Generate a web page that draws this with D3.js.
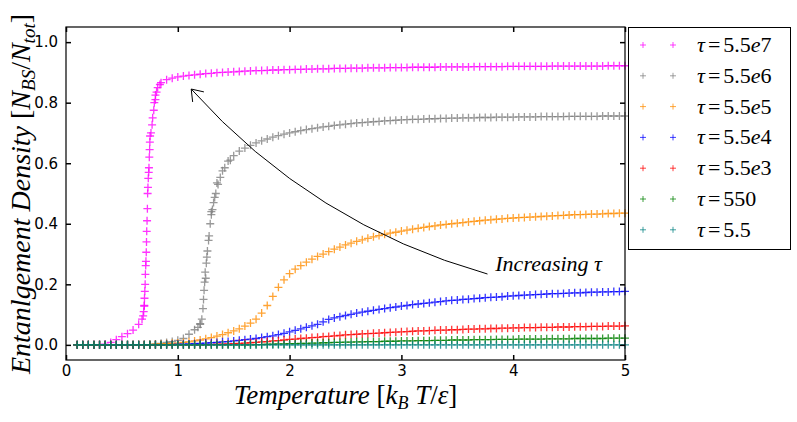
<!DOCTYPE html>
<html>
<head>
<meta charset="utf-8">
<script src="https://cdn.jsdelivr.net/npm/d3@7"></script>
<style>
  body { margin: 0; background: #fff; }
  svg  { display: block; }
</style>
</head>
<body>
<svg id="chart" width="797" height="422"></svg>
<script>
/* ── Entanglement density vs temperature ───────────────────────── */

// shared temperature grid (k_B T / eps)
const tempGrid = [
  0.10,0.15,0.20,0.25,0.30,0.35,0.40,0.45,0.50,0.55,
  0.60,0.65,0.70,0.75,0.80,0.85,0.90,0.95,1.00,1.05,
  1.10,1.15,1.20,1.25,1.30,1.35,1.40,1.45,1.50,1.55,
  1.60,1.65,1.70,1.75,1.80,1.85,1.90,1.95,2.00,2.05,
  2.10,2.15,2.20,2.25,2.30,2.35,2.40,2.45,2.50,2.55,
  2.60,2.65,2.70,2.75,2.80,2.85,2.90,2.95,3.00,3.05,
  3.10,3.15,3.20,3.25,3.30,3.35,3.40,3.45,3.50,3.55,
  3.60,3.65,3.70,3.75,3.80,3.85,3.90,3.95,4.00,4.05,
  4.10,4.15,4.20,4.25,4.30,4.35,4.40,4.45,4.50,4.55,
  4.60,4.65,4.70,4.75,4.80,4.85,4.90,4.95,5.00
];

const tau55e7 = [
  0,0,0,0,0,0.002,0.008,0.017,0.027,0.037,
  0.049,0.068,0.13,0.67,0.825,0.866,0.876,0.881,0.885,0.888,
  0.890,0.892,0.894,0.896,0.897,0.899,0.900,0.901,0.902,0.903,
  0.904,0.905,0.906,0.906,0.907,0.908,0.908,0.909,0.909,0.910,
  0.910,0.911,0.911,0.912,0.912,0.912,0.913,0.913,0.913,0.914,
  0.914,0.914,0.915,0.915,0.915,0.915,0.916,0.916,0.916,0.916,
  0.917,0.917,0.917,0.917,0.917,0.918,0.918,0.918,0.918,0.918,
  0.918,0.919,0.919,0.919,0.919,0.919,0.919,0.920,0.920,0.920,
  0.920,0.920,0.920,0.920,0.920,0.921,0.921,0.921,0.921,0.921,
  0.921,0.921,0.921,0.921,0.921,0.922,0.922,0.922,0.922
];
// extra readings on the steep rise of tau = 5.5e7
const steep55e7T = [0.68,0.69,0.695,0.70,0.702,0.705,0.708,0.71,0.713,0.715,0.718,0.72,0.722,0.725,0.728,0.73,
                    0.733,0.736,0.74,0.742,0.745,0.748,0.752,0.76,0.77,0.775,0.785,0.79,0.80,0.81,0.82,0.84];
const steep55e7V = [0.085,0.096,0.11,0.128,0.154,0.177,0.20,0.233,0.262,0.276,0.306,0.34,0.375,0.41,0.45,0.50,
                    0.52,0.55,0.57,0.585,0.62,0.645,0.69,0.70,0.727,0.75,0.775,0.80,0.81,0.835,0.85,0.86];

const tau55e6 = [
  0,0,0,0,0,0,0,0,0,0,
  0,0,0,0.001,0.003,0.005,0.008,0.011,0.015,0.021,
  0.035,0.05,0.07,0.22,0.44,0.535,0.575,0.607,0.625,0.64,
  0.65,0.659,0.667,0.674,0.68,0.686,0.691,0.696,0.70,0.704,
  0.708,0.711,0.714,0.717,0.72,0.722,0.725,0.727,0.729,0.731,
  0.733,0.734,0.736,0.737,0.738,0.74,0.741,0.742,0.743,0.744,
  0.745,0.745,0.746,0.747,0.747,0.748,0.748,0.749,0.749,0.750,
  0.750,0.750,0.751,0.751,0.751,0.752,0.752,0.752,0.752,0.753,
  0.753,0.753,0.753,0.754,0.754,0.754,0.754,0.754,0.755,0.755,
  0.755,0.755,0.755,0.755,0.756,0.756,0.756,0.756,0.756
];
const steep55e6T = [1.18,1.20,1.215,1.225,1.23,1.235,1.24,1.245,1.255,1.26,1.265,1.275,1.28,1.29,1.30,1.31,
                    1.32,1.33,1.34,1.36,1.38,1.42,1.47];
const steep55e6V = [0.058,0.068,0.085,0.12,0.15,0.18,0.207,0.24,0.27,0.29,0.31,0.345,0.36,0.40,0.43,0.447,
                    0.47,0.487,0.50,0.53,0.553,0.585,0.61];

const tau55e5 = [
  0,0,0,0,0,0,0,0,0,0,
  0,0,0,0.001,0.002,0.003,0.004,0.005,0.006,0.008,
  0.010,0.013,0.016,0.020,0.024,0.029,0.034,0.040,0.046,0.053,
  0.062,0.072,0.085,0.105,0.13,0.16,0.19,0.215,0.235,0.25,
  0.262,0.273,0.283,0.292,0.30,0.308,0.316,0.323,0.33,0.336,
  0.342,0.347,0.352,0.357,0.361,0.365,0.369,0.372,0.376,0.379,
  0.382,0.385,0.388,0.391,0.393,0.396,0.398,0.40,0.402,0.404,
  0.406,0.408,0.41,0.412,0.413,0.415,0.416,0.418,0.419,0.42,
  0.421,0.422,0.423,0.424,0.425,0.426,0.427,0.428,0.429,0.43,
  0.43,0.431,0.432,0.432,0.433,0.434,0.434,0.435,0.435
];

const tau55e4 = [
  0,0,0,0,0,0,0,0,0,0,
  0,0,0,0,0,0,0.001,0.001,0.002,0.002,
  0.003,0.004,0.005,0.006,0.007,0.008,0.01,0.011,0.013,0.015,
  0.017,0.019,0.021,0.024,0.027,0.03,0.034,0.038,0.043,0.048,
  0.053,0.058,0.063,0.068,0.076,0.084,0.089,0.093,0.097,0.101,
  0.105,0.108,0.111,0.114,0.117,0.12,0.123,0.125,0.128,0.13,
  0.133,0.135,0.137,0.139,0.141,0.143,0.145,0.147,0.148,0.15,
  0.151,0.153,0.154,0.156,0.157,0.158,0.159,0.161,0.162,0.163,
  0.164,0.165,0.166,0.167,0.168,0.169,0.169,0.17,0.171,0.172,
  0.172,0.173,0.174,0.174,0.175,0.175,0.176,0.176,0.177
];

const tau55e3 = [
  0,0,0,0,0,0,0,0,0,0,
  0,0,0,0,0,0,0,0,0,0,
  0,0,0,0.001,0.001,0.002,0.002,0.003,0.004,0.005,
  0.006,0.007,0.008,0.01,0.011,0.013,0.014,0.016,0.018,0.019,
  0.021,0.022,0.024,0.025,0.027,0.028,0.03,0.031,0.033,0.034,
  0.035,0.036,0.037,0.038,0.039,0.04,0.041,0.042,0.043,0.044,
  0.045,0.046,0.046,0.047,0.048,0.049,0.049,0.05,0.05,0.051,
  0.052,0.052,0.053,0.053,0.054,0.054,0.055,0.055,0.056,0.056,
  0.057,0.057,0.057,0.058,0.058,0.058,0.059,0.059,0.059,0.06,
  0.06,0.06,0.061,0.061,0.061,0.062,0.062,0.062,0.063
];

const tau550 = [
  0,0,0,0,0,0,0,0,0,0,
  0,0,0,0,0,0,0,0,0,0,
  0,0,0,0,0,0,0,0,0,0,
  0,0,0.001,0.001,0.002,0.002,0.003,0.003,0.004,0.004,
  0.005,0.005,0.006,0.006,0.007,0.007,0.008,0.008,0.009,0.009,
  0.01,0.01,0.011,0.011,0.011,0.012,0.012,0.012,0.013,0.013,
  0.013,0.014,0.014,0.014,0.015,0.015,0.015,0.016,0.016,0.016,
  0.016,0.017,0.017,0.017,0.017,0.018,0.018,0.018,0.018,0.019,
  0.019,0.019,0.019,0.019,0.02,0.02,0.02,0.02,0.02,0.021,
  0.021,0.021,0.021,0.021,0.021,0.022,0.022,0.022,0.022
];

const tau5p5 = [
  0,0,0,0,0,0,0,0,0,0,
  0,0,0,0,0,0,0,0,0,0,
  0,0,0,0,0,0,0,0,0,0,
  0,0,0,0,0,0,0,0,0,0,
  0,0,0,0,0,0,0,0,0,0,
  0,0,0,0,0,0,0,0,0,0,
  0,0,0,0,0,0,0,0,0,0,
  0,0,0,0,0,0,0,0,0,0,
  0,0,0,0,0,0,0,0,0,0,
  0,0,0,0,0,0,0,0,0
];

const tauLabels    = ["5.5e7", "5.5e6", "5.5e5", "5.5e4", "5.5e3", "550", "5.5"];
const seriesColors = ["#ff00ff", "#808080", "#ff8c00", "#0000ff", "#ff0000", "#008000", "#008080"];
const xTicks = [0, 1, 2, 3, 4, 5];
const yTicks = [0.0, 0.2, 0.4, 0.6, 0.8, 1.0];

// annotation, in data coordinates
const arrowTip  = [1.12, 0.845];
const arrowTail = [3.77, 0.234];
const noteAt    = [3.84, 0.243];

const series = [
  { tau: tauLabels[0], color: seriesColors[0], v: tau55e7, xt: steep55e7T, xv: steep55e7V },
  { tau: tauLabels[1], color: seriesColors[1], v: tau55e6, xt: steep55e6T, xv: steep55e6V },
  { tau: tauLabels[2], color: seriesColors[2], v: tau55e5 },
  { tau: tauLabels[3], color: seriesColors[3], v: tau55e4 },
  { tau: tauLabels[4], color: seriesColors[4], v: tau55e3 },
  { tau: tauLabels[5], color: seriesColors[5], v: tau550 },
  { tau: tauLabels[6], color: seriesColors[6], v: tau5p5 },
];

// ── Layout ────────────────────────────────────────────────────────
const M = { left: 66, right: 625, top: 27, bottom: 360 };
const SERIF = "'Liberation Serif', 'Times New Roman', serif";
const SANS  = "'DejaVu Sans', sans-serif";
const PLUS  = "M-4,0H4M0,-4V4";

const svg = d3.select("#chart");

const x = d3.scaleLinear().domain([0, 5]).range([M.left, M.right]);
const y = d3.scaleLinear().domain([-0.05, 1.05]).range([M.bottom, M.top]);

// ── Data markers ──────────────────────────────────────────────────
const plot = svg.append("g");
series.forEach(s => {
  const pts = tempGrid.map((t, i) => [t, s.v[i]]).filter(p => p[1] != null);
  if (s.xt) s.xt.forEach((t, i) => pts.push([t, s.xv[i]]));
  plot.append("g")
    .selectAll("path")
    .data(pts)
    .join("path")
      .attr("d", PLUS)
      .attr("transform", d => `translate(${x(d[0])},${y(d[1])})`)
      .attr("stroke", s.color)
      .attr("stroke-opacity", .8)
      .attr("stroke-width", 1.3)
      .attr("fill", "none");
});

// ── Axes (ticks point inward, frame drawn separately) ────────────
const styleAxis = g => {
  g.select(".domain").remove();
  g.selectAll(".tick line").attr("stroke", "#000").attr("stroke-width", 1.5);
  g.selectAll(".tick text").attr("fill", "#000").style("font-family", SANS).style("font-size", "15px");
};

svg.append("g")
  .attr("transform", `translate(0,${M.bottom})`)
  .call(d3.axisBottom(x).tickValues(xTicks).tickFormat(d3.format("d")).tickSize(-5).tickPadding(5))
  .call(styleAxis);

svg.append("g")
  .attr("transform", `translate(0,${M.top})`)
  .call(d3.axisTop(x).tickValues(xTicks).tickFormat("").tickSize(-5))
  .call(styleAxis);

svg.append("g")
  .attr("transform", `translate(${M.left},0)`)
  .call(d3.axisLeft(y).tickValues(yTicks).tickFormat(d3.format(".1f")).tickSize(-5).tickPadding(8))
  .call(styleAxis);

svg.append("g")
  .attr("transform", `translate(${M.right},0)`)
  .call(d3.axisRight(y).tickValues(yTicks).tickFormat("").tickSize(-5))
  .call(styleAxis);

svg.append("rect")
  .attr("x", M.left).attr("y", M.top)
  .attr("width", M.right - M.left).attr("height", M.bottom - M.top)
  .attr("fill", "none").attr("stroke", "#000").attr("stroke-width", 1.2);

// ── Axis titles ───────────────────────────────────────────────────
const xt = svg.append("text")
  .attr("x", (M.left + M.right) / 2).attr("y", 404)
  .attr("text-anchor", "middle")
  .style("font-family", SERIF).style("font-size", "27px");
xt.append("tspan").style("font-style", "italic").text("Temperature ");
xt.append("tspan").text("[");
xt.append("tspan").style("font-style", "italic").text("k");
xt.append("tspan").style("font-style", "italic").style("font-size", "18px").attr("dy", 5).text("B");
xt.append("tspan").style("font-style", "italic").attr("dy", -5).text(" T");
xt.append("tspan").text("/");
xt.append("tspan").style("font-style", "italic").text("ε");
xt.append("tspan").text("]");

const yt = svg.append("text")
  .attr("transform", `translate(30,194) rotate(-90)`)
  .attr("text-anchor", "middle")
  .style("font-family", SERIF).style("font-size", "28px");
yt.append("tspan").style("font-style", "italic").text("Entanlgement Density ");
yt.append("tspan").text("[");
yt.append("tspan").style("font-style", "italic").text("N");
yt.append("tspan").style("font-style", "italic").style("font-size", "19px").attr("dy", 5).text("BS");
yt.append("tspan").attr("dy", -5).text("/");
yt.append("tspan").style("font-style", "italic").text("N");
yt.append("tspan").style("font-style", "italic").style("font-size", "19px").attr("dy", 5).text("tot");
yt.append("tspan").attr("dy", -5).text("]");

// ── "Increasing tau" arrow (arc3-like quadratic curve) ──────────
const p0 = [x(arrowTail[0]), y(arrowTail[1])];
const p1 = [x(arrowTip[0]),  y(arrowTip[1])];
const rad = 0.145;
const dx = p1[0] - p0[0], dy = p1[1] - p0[1];
const ctrl = [(p0[0] + p1[0]) / 2 + rad * dy, (p0[1] + p1[1]) / 2 - rad * dx];

svg.append("path")
  .attr("d", `M${p0[0]},${p0[1]}Q${ctrl[0]},${ctrl[1]} ${p1[0]},${p1[1]}`)
  .attr("fill", "none").attr("stroke", "#000").attr("stroke-width", 1);

const back = Math.atan2(ctrl[1] - p1[1], ctrl[0] - p1[0]);
const headLen = 13, headAng = 0.62;
const arm = a => [p1[0] + headLen * Math.cos(back + a), p1[1] + headLen * Math.sin(back + a)];
const a1 = arm(headAng), a2 = arm(-headAng);
svg.append("path")
  .attr("d", `M${a1[0]},${a1[1]}L${p1[0]},${p1[1]}L${a2[0]},${a2[1]}`)
  .attr("fill", "none").attr("stroke", "#000").attr("stroke-width", 1);

svg.append("text")
  .attr("x", x(noteAt[0])).attr("y", y(noteAt[1]))
  .style("font-family", SERIF).style("font-size", "22px").style("font-style", "italic")
  .text("Increasing τ");

// ── Legend ────────────────────────────────────────────────────────
const leg = svg.append("g");
leg.append("rect")
  .attr("x", 628.5).attr("y", 27.5).attr("width", 162).attr("height", 222)
  .attr("fill", "#fff").attr("stroke", "#000").attr("stroke-width", 1);

const rows = leg.selectAll("g.row")
  .data(series)
  .join("g")
    .attr("class", "row")
    .attr("transform", (d, i) => `translate(0,${45 + i * 30.8})`);

[643, 673].forEach(mx => {
  rows.append("path")
    .attr("d", "M-3,0H3M0,-3V3")
    .attr("transform", `translate(${mx},0)`)
    .attr("stroke", d => d.color)
    .attr("stroke-opacity", .75)
    .attr("fill", "none");
});

rows.each(function (d) {
  const t = d3.select(this).append("text")
    .attr("x", 697).attr("y", 7)
    .style("font-family", SERIF).style("font-size", "22px");
  t.append("tspan").style("font-style", "italic").text("τ");
  t.append("tspan").attr("dx", 3).text("=");
  const [mant, expo] = d.tau.split("e");
  t.append("tspan").attr("dx", 3).text(mant);
  if (expo) {
    t.append("tspan").style("font-style", "italic").text("e");
    t.append("tspan").text(expo);
  }
});
</script>
</body>
</html>
